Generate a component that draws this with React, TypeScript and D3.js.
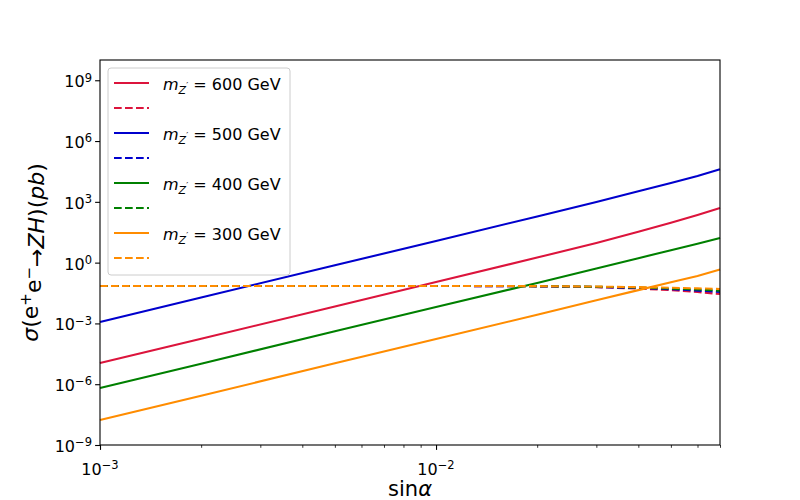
import React, { useEffect, useRef } from 'react';
import * as d3 from 'd3';

// x values (sin alpha)
const sinAlpha = [0.001, 0.002, 0.005, 0.01, 0.02, 0.03, 0.04, 0.05, 0.06, 0.07];

const massLabels = ['600', '500', '400', '300'];
const lineColors = ['#dc143c', '#0000cd', '#008000', '#ff8c00'];

// solid curves (pb)
const solid600 = [1.1e-5, 1.74e-4, 6.9e-3, 0.11, 1.78, 9.3, 33, 93, 224, 500];
const solid500 = [1.17e-3, 1.9e-2, 0.74, 11.7, 190, 980, 3300, 8500, 19000, 41000];
const solid400 = [6.5e-7, 1.02e-5, 4.1e-4, 6.5e-3, 0.1, 0.52, 1.66, 4.1, 8.5, 16.6];
const solid300 = [1.7e-8, 2.7e-7, 1.07e-5, 1.7e-4, 2.7e-3, 0.0138, 0.044, 0.107, 0.22, 0.46];

// dashed curves (pb)
const dashed600 = [0.0708, 0.0708, 0.0708, 0.0708, 0.0676, 0.0617, 0.0525, 0.0437, 0.0355, 0.0282];
const dashed500 = [0.0708, 0.0708, 0.0708, 0.0708, 0.0676, 0.0631, 0.0562, 0.049, 0.0417, 0.0355];
const dashed400 = [0.0708, 0.0708, 0.0708, 0.0708, 0.0692, 0.0646, 0.0589, 0.0525, 0.0468, 0.0417];
const dashed300 = [0.0708, 0.0708, 0.0708, 0.0708, 0.0692, 0.0661, 0.0617, 0.0575, 0.0537, 0.0501];

const solidSeries = [solid600, solid500, solid400, solid300];
const dashedSeries = [dashed600, dashed500, dashed400, dashed300];

// ticks
const xMajorExps = [-3, -2];
const xMinorTicks = [0.002, 0.003, 0.004, 0.005, 0.006, 0.007, 0.008, 0.009, 0.02, 0.03, 0.04, 0.05, 0.06, 0.07];
const yMajorExps = [-9, -6, -3, 0, 3, 6, 9];

const FONT = '"DejaVu Sans", sans-serif';

const App: React.FC = () => {
  const svgRef = useRef<SVGSVGElement>(null);

  useEffect(() => {
    if (!svgRef.current) return;
    d3.select(svgRef.current).selectAll('*').remove();

    const margin = { top: 60, right: 80, bottom: 55, left: 100 };
    const width = 800 - margin.left - margin.right;
    const height = 500 - margin.top - margin.bottom;

    const svg = d3.select(svgRef.current)
      .attr('width', 800)
      .attr('height', 500)
      .style('font-family', FONT);

    svg.append('rect').attr('width', 800).attr('height', 500).attr('fill', '#fff');

    const g = svg.append('g')
      .attr('transform', `translate(${margin.left}, ${margin.top})`);

    const xScale = d3.scaleLog().domain([1e-3, 0.07]).range([0, width]);
    const yScale = d3.scaleLog().domain([1e-9, 1e10]).range([height, 0]);

    const line = d3.line<[number, number]>()
      .x(d => xScale(d[0]))
      .y(d => yScale(d[1]));

    // lines, in legend order: solid then dashed per mass
    massLabels.forEach((_, i) => {
      g.append('path')
        .datum(sinAlpha.map((s, j) => [s, solidSeries[i][j]] as [number, number]))
        .attr('fill', 'none')
        .attr('stroke', lineColors[i])
        .attr('stroke-width', 2.08)
        .attr('d', line);

      g.append('path')
        .datum(sinAlpha.map((s, j) => [s, dashedSeries[i][j]] as [number, number]))
        .attr('fill', 'none')
        .attr('stroke', lineColors[i])
        .attr('stroke-width', 2.08)
        .attr('stroke-dasharray', '7.7,3.3')
        .attr('d', line);
    });

    // x axis ticks
    const xMajor = xMajorExps.map(e => Math.pow(10, e));
    g.append('g')
      .attr('transform', `translate(0, ${height})`)
      .call(d3.axisBottom(xScale).tickValues(xMajor).tickSize(4.9).tickFormat(() => ''))
      .call(a => a.select('.domain').remove())
      .call(a => a.selectAll('line').attr('stroke', '#000').attr('stroke-width', 1.1));
    g.append('g')
      .attr('transform', `translate(0, ${height})`)
      .call(d3.axisBottom(xScale).tickValues(xMinorTicks).tickSize(2.8).tickFormat(() => ''))
      .call(a => a.select('.domain').remove())
      .call(a => a.selectAll('line').attr('stroke', '#000').attr('stroke-width', 0.8));

    xMajorExps.forEach(e => {
      const t = g.append('text')
        .attr('x', xScale(Math.pow(10, e)))
        .attr('y', height + 30)
        .attr('text-anchor', 'middle')
        .style('font-size', '16px')
        .style('fill', '#000');
      t.append('tspan').text('10');
      t.append('tspan').attr('dy', '-0.5em').style('font-size', '11.5px').text(e < 0 ? `\u2212${-e}` : `${e}`);
    });

    // y axis ticks
    const yMajor = yMajorExps.map(e => Math.pow(10, e));
    g.append('g')
      .call(d3.axisLeft(yScale).tickValues(yMajor).tickSize(4.9).tickFormat(() => ''))
      .call(a => a.select('.domain').remove())
      .call(a => a.selectAll('line').attr('stroke', '#000').attr('stroke-width', 1.1));

    yMajorExps.forEach(e => {
      const t = g.append('text')
        .attr('x', -8)
        .attr('y', yScale(Math.pow(10, e)) + 7)
        .attr('text-anchor', 'end')
        .style('font-size', '16px')
        .style('fill', '#000');
      t.append('tspan').text('10');
      t.append('tspan').attr('dy', '-0.5em').style('font-size', '11.5px').text(e < 0 ? `\u2212${-e}` : `${e}`);
    });

    // frame
    g.append('rect')
      .attr('width', width)
      .attr('height', height)
      .attr('fill', 'none')
      .attr('stroke', '#000')
      .attr('stroke-width', 1.1);

    // legend
    const legend = g.append('g').attr('transform', 'translate(8, 8)');
    legend.append('rect')
      .attr('width', 182)
      .attr('height', 207)
      .attr('rx', 3)
      .attr('fill', '#fff')
      .attr('fill-opacity', 0.8)
      .attr('stroke', '#cccccc')
      .attr('stroke-width', 1);

    massLabels.forEach((m, i) => {
      const y0 = 15 + i * 50;
      legend.append('line')
        .attr('x1', 6).attr('x2', 41).attr('y1', y0).attr('y2', y0)
        .attr('stroke', lineColors[i]).attr('stroke-width', 2.08);
      legend.append('line')
        .attr('x1', 6).attr('x2', 41).attr('y1', y0 + 25).attr('y2', y0 + 25)
        .attr('stroke', lineColors[i]).attr('stroke-width', 2.08)
        .attr('stroke-dasharray', '7.7,3.3');

      const t = legend.append('text')
        .attr('x', 55)
        .attr('y', y0 + 7)
        .style('font-size', '16px')
        .style('fill', '#000');
      t.append('tspan').style('font-style', 'italic').text('m');
      t.append('tspan').attr('dy', 4).style('font-style', 'italic').style('font-size', '11px').text('Z');
      t.append('tspan').attr('dy', -5).style('font-size', '9px').text('\u2032');
      t.append('tspan').attr('dy', 1).text(` = ${m} GeV`);
    });

    // axis labels
    const xl = svg.append('text')
      .attr('x', margin.left + width / 2)
      .attr('y', 496)
      .attr('text-anchor', 'middle')
      .style('font-size', '21px')
      .style('fill', '#000');
    xl.append('tspan').text('sin');
    xl.append('tspan').style('font-style', 'italic').text('\u03b1');

    const yl = svg.append('text')
      .attr('transform', `translate(38, ${margin.top + height / 2}) rotate(-90)`)
      .attr('text-anchor', 'middle')
      .style('font-size', '22px')
      .style('fill', '#000');
    yl.append('tspan').style('font-style', 'italic').text('\u03c3');
    yl.append('tspan').text('(e');
    yl.append('tspan').attr('dy', '-0.45em').style('font-size', '15px').text('+');
    yl.append('tspan').attr('dy', '0.45em').text('e');
    yl.append('tspan').attr('dy', '-0.45em').style('font-size', '15px').text('\u2212');
    yl.append('tspan').attr('dy', '0.45em').text('\u2192');
    yl.append('tspan').style('font-style', 'italic').text('ZH');
    yl.append('tspan').text(')(');
    yl.append('tspan').style('font-style', 'italic').text('pb');
    yl.append('tspan').text(')');
  }, []);

  return (
    <div style={{ position: 'absolute', left: 0, top: 0 }}>
      <svg ref={svgRef}></svg>
    </div>
  );
};

export default App;
